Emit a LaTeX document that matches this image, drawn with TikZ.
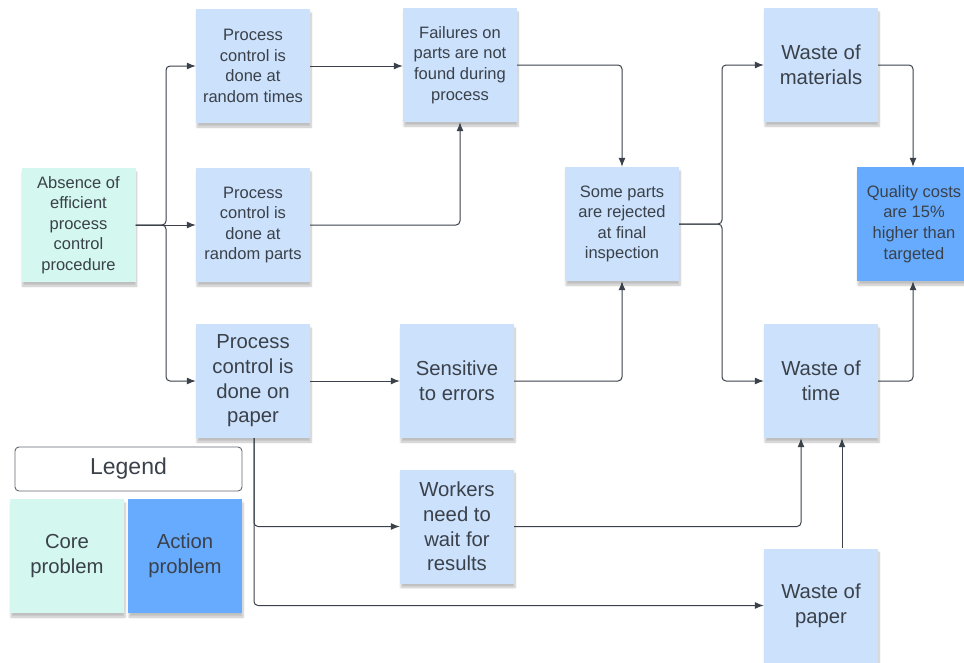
\documentclass[tikz,border=0pt]{standalone}
\usepackage{fontspec}
\setmainfont{Liberation Sans}
\usetikzlibrary{arrows.meta,shadows.blur}
\definecolor{ink}{HTML}{3A414A}
\definecolor{paleblue}{HTML}{CCE1FB}
\definecolor{paleteal}{HTML}{D4F7EF}
\definecolor{actionblue}{HTML}{67ABFE}
\tikzset{
  card/.style={minimum width=114pt, minimum height=114pt, inner sep=2pt, align=center,
    text=ink, blur shadow={shadow xshift=1pt, shadow yshift=-4pt, shadow blur steps=6, shadow opacity=25}},
  smalltext/.style={font=\fontsize{16.5}{20.6}\selectfont},
  bigtext/.style={font=\fontsize{20.3}{24.6}\selectfont},
  cause/.style={card, fill=paleblue, smalltext},
  bigcause/.style={card, fill=paleblue, bigtext},
  core/.style={card, fill=paleteal},
  action/.style={card, fill=actionblue},
  link/.style={draw=ink, line width=1pt, rounded corners=4pt, -{Latex[length=9pt,width=7pt]}},
}
\begin{document}
\begin{tikzpicture}[x=1pt,y=-1pt]
\useasboundingbox (0,0) rectangle (964,662);

% cause and effect cards
\node[core, smalltext] (absence) at (78.5,225) {Absence of\\efficient\\process\\control\\procedure};
\node[cause] (times) at (253,66) {Process\\control is\\done at\\random times};
\node[cause] (parts) at (253,225) {Process\\control is\\done at\\random parts};
\node[bigcause] (paper) at (253,381) {Process\\control is\\done on\\paper};
\node[cause] (fail) at (460,65) {Failures on\\parts are not\\found during\\process};
\node[bigcause] (sens) at (457,381) {Sensitive\\to errors};
\node[bigcause] (wait) at (457,526.5) {Workers\\need to\\wait for\\results};
\node[cause] (reject) at (622,224) {Some parts\\are rejected\\at final\\inspection};
\node[bigcause] (wmat) at (821,65) {Waste of\\materials};
\node[bigcause] (wtime) at (821,381) {Waste of\\time};
\node[bigcause] (wpaper) at (821,605.5) {Waste of\\paper};
\node[action, smalltext] (cost) at (914,224) {Quality costs\\are 15\%\\higher than\\targeted};

% legend
\node[draw=ink!80, line width=0.9pt, rounded corners=4pt, minimum width=227pt, minimum height=44pt,
  text=ink, font=\fontsize{23}{27}\selectfont] (legend) at (128.5,469) {Legend};
\node[core, bigtext] (lcore) at (67,556) {Core\\problem};
\node[action, bigtext] (laction) at (185,556) {Action\\problem};

% connectors
\coordinate (split) at (166,225);
\draw[link] (absence.east) -- (split) |- (times.west);
\draw[link] (absence.east) -- (parts.west);
\draw[link] (absence.east) -- (split) |- (paper.west);
\draw[link] (times.east) -- (fail.west |- times.east);
\draw[link] (parts.east) -| (fail.south);
\draw[link] (fail.east) -| (reject.north);
\draw[link] (paper.east) -- (sens.west);
\draw[link] (sens.east) -| (reject.south);
\coordinate (fork) at (722,224);
\draw[link] (reject.east) -- (fork) |- (wmat.west);
\draw[link] (reject.east) -- (fork) |- (wtime.west);
\draw[link] (wmat.east) -| ([xshift=-1pt]cost.north);
\draw[link] (wtime.east) -| ([xshift=-1pt]cost.south);
\coordinate (drop) at (254,438);
\draw[link] (drop) |- (wait.west);
\draw[link] (drop) |- (wpaper.west);
\draw[link] (wait.east) -| ([xshift=-20pt]wtime.south);
\draw[link] ([xshift=21pt]wpaper.north) -- ([xshift=21pt]wtime.south);
\end{tikzpicture}
\end{document}
